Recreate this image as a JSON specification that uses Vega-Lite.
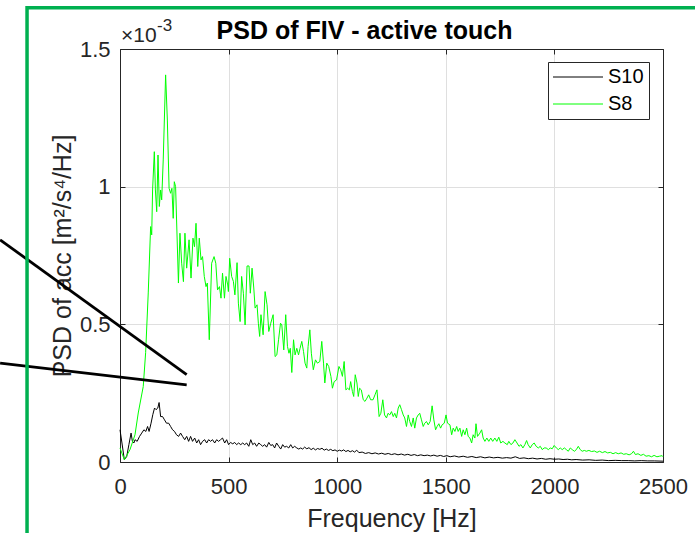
{
  "$schema": "https://vega.github.io/schema/vega-lite/v6.json",
  "width": 543,
  "height": 413,
  "autosize": {"type": "none"},
  "padding": {"left": 120, "top": 49, "right": 32, "bottom": 71},
  "background": "white",
  "config": {
    "view": {"stroke": null},
    "font": "Liberation Sans",
    "axis": {"labelFont": "Liberation Sans", "titleFont": "Liberation Sans"}
  },
  "datasets": {
    "s10": [
      {"f":0,"v":0.117,"s":"S10"},{"f":9,"v":0.069,"s":"S10"},{"f":20,"v":0.008,"s":"S10"},{"f":31,"v":0.020,"s":"S10"},{"f":41,"v":0.063,"s":"S10"},{"f":51,"v":0.105,"s":"S10"},{"f":57,"v":0.075,"s":"S10"},{"f":64,"v":0.069,"s":"S10"},{"f":69,"v":0.081,"s":"S10"},{"f":79,"v":0.075,"s":"S10"},{"f":90,"v":0.093,"s":"S10"},{"f":100,"v":0.105,"s":"S10"},{"f":110,"v":0.117,"s":"S10"},{"f":119,"v":0.111,"s":"S10"},{"f":127,"v":0.129,"s":"S10"},{"f":134,"v":0.111,"s":"S10"},{"f":143,"v":0.141,"s":"S10"},{"f":151,"v":0.172,"s":"S10"},{"f":159,"v":0.196,"s":"S10"},{"f":166,"v":0.190,"s":"S10"},{"f":174,"v":0.196,"s":"S10"},{"f":180,"v":0.216,"s":"S10"},{"f":187,"v":0.165,"s":"S10"},{"f":196,"v":0.165,"s":"S10"},{"f":205,"v":0.153,"s":"S10"},{"f":214,"v":0.141,"s":"S10"},{"f":224,"v":0.141,"s":"S10"},{"f":233,"v":0.129,"s":"S10"},{"f":242,"v":0.117,"s":"S10"},{"f":251,"v":0.111,"s":"S10"},{"f":260,"v":0.099,"s":"S10"},{"f":270,"v":0.093,"s":"S10"},{"f":279,"v":0.105,"s":"S10"},{"f":288,"v":0.093,"s":"S10"},{"f":298,"v":0.081,"s":"S10"},{"f":307,"v":0.093,"s":"S10"},{"f":316,"v":0.075,"s":"S10"},{"f":325,"v":0.093,"s":"S10"},{"f":334,"v":0.075,"s":"S10"},{"f":344,"v":0.087,"s":"S10"},{"f":353,"v":0.069,"s":"S10"},{"f":362,"v":0.081,"s":"S10"},{"f":371,"v":0.063,"s":"S10"},{"f":380,"v":0.075,"s":"S10"},{"f":390,"v":0.081,"s":"S10"},{"f":399,"v":0.069,"s":"S10"},{"f":408,"v":0.081,"s":"S10"},{"f":417,"v":0.075,"s":"S10"},{"f":426,"v":0.081,"s":"S10"},{"f":436,"v":0.069,"s":"S10"},{"f":445,"v":0.081,"s":"S10"},{"f":454,"v":0.075,"s":"S10"},{"f":463,"v":0.081,"s":"S10"},{"f":472,"v":0.087,"s":"S10"},{"f":482,"v":0.069,"s":"S10"},{"f":491,"v":0.081,"s":"S10"},{"f":500,"v":0.063,"s":"S10"},{"f":509,"v":0.071,"s":"S10"},{"f":519,"v":0.066,"s":"S10"},{"f":528,"v":0.071,"s":"S10"},{"f":537,"v":0.063,"s":"S10"},{"f":546,"v":0.069,"s":"S10"},{"f":556,"v":0.063,"s":"S10"},{"f":565,"v":0.069,"s":"S10"},{"f":574,"v":0.063,"s":"S10"},{"f":583,"v":0.069,"s":"S10"},{"f":593,"v":0.057,"s":"S10"},{"f":602,"v":0.081,"s":"S10"},{"f":611,"v":0.063,"s":"S10"},{"f":620,"v":0.069,"s":"S10"},{"f":629,"v":0.057,"s":"S10"},{"f":639,"v":0.069,"s":"S10"},{"f":648,"v":0.063,"s":"S10"},{"f":657,"v":0.057,"s":"S10"},{"f":666,"v":0.063,"s":"S10"},{"f":675,"v":0.054,"s":"S10"},{"f":685,"v":0.071,"s":"S10"},{"f":694,"v":0.060,"s":"S10"},{"f":703,"v":0.063,"s":"S10"},{"f":712,"v":0.051,"s":"S10"},{"f":721,"v":0.069,"s":"S10"},{"f":731,"v":0.057,"s":"S10"},{"f":740,"v":0.047,"s":"S10"},{"f":749,"v":0.063,"s":"S10"},{"f":758,"v":0.054,"s":"S10"},{"f":767,"v":0.057,"s":"S10"},{"f":777,"v":0.051,"s":"S10"},{"f":786,"v":0.063,"s":"S10"},{"f":795,"v":0.051,"s":"S10"},{"f":804,"v":0.057,"s":"S10"},{"f":814,"v":0.051,"s":"S10"},{"f":823,"v":0.047,"s":"S10"},{"f":832,"v":0.051,"s":"S10"},{"f":841,"v":0.047,"s":"S10"},{"f":850,"v":0.054,"s":"S10"},{"f":860,"v":0.048,"s":"S10"},{"f":870,"v":0.052,"s":"S10"},{"f":880,"v":0.045,"s":"S10"},{"f":890,"v":0.050,"s":"S10"},{"f":900,"v":0.044,"s":"S10"},{"f":910,"v":0.049,"s":"S10"},{"f":920,"v":0.046,"s":"S10"},{"f":930,"v":0.050,"s":"S10"},{"f":940,"v":0.043,"s":"S10"},{"f":950,"v":0.047,"s":"S10"},{"f":960,"v":0.042,"s":"S10"},{"f":970,"v":0.046,"s":"S10"},{"f":980,"v":0.041,"s":"S10"},{"f":990,"v":0.044,"s":"S10"},{"f":1000,"v":0.039,"s":"S10"},{"f":1010,"v":0.043,"s":"S10"},{"f":1020,"v":0.040,"s":"S10"},{"f":1030,"v":0.044,"s":"S10"},{"f":1040,"v":0.038,"s":"S10"},{"f":1050,"v":0.042,"s":"S10"},{"f":1060,"v":0.037,"s":"S10"},{"f":1070,"v":0.041,"s":"S10"},{"f":1080,"v":0.036,"s":"S10"},{"f":1090,"v":0.043,"s":"S10"},{"f":1100,"v":0.034,"s":"S10"},{"f":1115,"v":0.036,"s":"S10"},{"f":1130,"v":0.031,"s":"S10"},{"f":1145,"v":0.034,"s":"S10"},{"f":1160,"v":0.030,"s":"S10"},{"f":1175,"v":0.033,"s":"S10"},{"f":1190,"v":0.029,"s":"S10"},{"f":1205,"v":0.032,"s":"S10"},{"f":1220,"v":0.028,"s":"S10"},{"f":1235,"v":0.031,"s":"S10"},{"f":1250,"v":0.027,"s":"S10"},{"f":1265,"v":0.030,"s":"S10"},{"f":1280,"v":0.026,"s":"S10"},{"f":1295,"v":0.029,"s":"S10"},{"f":1310,"v":0.025,"s":"S10"},{"f":1325,"v":0.028,"s":"S10"},{"f":1340,"v":0.024,"s":"S10"},{"f":1355,"v":0.027,"s":"S10"},{"f":1370,"v":0.023,"s":"S10"},{"f":1385,"v":0.026,"s":"S10"},{"f":1400,"v":0.023,"s":"S10"},{"f":1415,"v":0.025,"s":"S10"},{"f":1430,"v":0.022,"s":"S10"},{"f":1445,"v":0.025,"s":"S10"},{"f":1460,"v":0.021,"s":"S10"},{"f":1475,"v":0.024,"s":"S10"},{"f":1490,"v":0.020,"s":"S10"},{"f":1505,"v":0.023,"s":"S10"},{"f":1520,"v":0.019,"s":"S10"},{"f":1540,"v":0.022,"s":"S10"},{"f":1560,"v":0.018,"s":"S10"},{"f":1580,"v":0.021,"s":"S10"},{"f":1600,"v":0.017,"s":"S10"},{"f":1620,"v":0.020,"s":"S10"},{"f":1640,"v":0.016,"s":"S10"},{"f":1660,"v":0.019,"s":"S10"},{"f":1680,"v":0.015,"s":"S10"},{"f":1700,"v":0.018,"s":"S10"},{"f":1720,"v":0.015,"s":"S10"},{"f":1740,"v":0.017,"s":"S10"},{"f":1760,"v":0.014,"s":"S10"},{"f":1780,"v":0.016,"s":"S10"},{"f":1800,"v":0.014,"s":"S10"},{"f":1820,"v":0.019,"s":"S10"},{"f":1840,"v":0.013,"s":"S10"},{"f":1860,"v":0.015,"s":"S10"},{"f":1880,"v":0.012,"s":"S10"},{"f":1900,"v":0.014,"s":"S10"},{"f":1920,"v":0.011,"s":"S10"},{"f":1940,"v":0.013,"s":"S10"},{"f":1960,"v":0.010,"s":"S10"},{"f":1980,"v":0.012,"s":"S10"},{"f":2000,"v":0.010,"s":"S10"},{"f":2020,"v":0.011,"s":"S10"},{"f":2040,"v":0.009,"s":"S10"},{"f":2060,"v":0.010,"s":"S10"},{"f":2080,"v":0.008,"s":"S10"},{"f":2100,"v":0.009,"s":"S10"},{"f":2130,"v":0.007,"s":"S10"},{"f":2160,"v":0.008,"s":"S10"},{"f":2190,"v":0.006,"s":"S10"},{"f":2220,"v":0.007,"s":"S10"},{"f":2250,"v":0.005,"s":"S10"},{"f":2280,"v":0.006,"s":"S10"},{"f":2310,"v":0.005,"s":"S10"},{"f":2340,"v":0.005,"s":"S10"},{"f":2370,"v":0.004,"s":"S10"},{"f":2400,"v":0.005,"s":"S10"},{"f":2430,"v":0.004,"s":"S10"},{"f":2460,"v":0.004,"s":"S10"},{"f":2500,"v":0.003,"s":"S10"}
    ],
    "s8": [
      {"f":0,"v":0.051,"s":"S8"},{"f":20,"v":0.008,"s":"S8"},{"f":46,"v":0.045,"s":"S8"},{"f":69,"v":0.099,"s":"S8"},{"f":84,"v":0.178,"s":"S8"},{"f":107,"v":0.274,"s":"S8"},{"f":118,"v":0.397,"s":"S8"},{"f":130,"v":0.614,"s":"S8"},{"f":141,"v":0.855,"s":"S8"},{"f":146,"v":0.825,"s":"S8"},{"f":150,"v":0.988,"s":"S8"},{"f":158,"v":1.127,"s":"S8"},{"f":163,"v":0.988,"s":"S8"},{"f":169,"v":0.909,"s":"S8"},{"f":175,"v":1.115,"s":"S8"},{"f":181,"v":0.928,"s":"S8"},{"f":187,"v":0.988,"s":"S8"},{"f":192,"v":0.952,"s":"S8"},{"f":199,"v":1.097,"s":"S8"},{"f":210,"v":1.406,"s":"S8"},{"f":218,"v":1.242,"s":"S8"},{"f":226,"v":0.994,"s":"S8"},{"f":233,"v":0.976,"s":"S8"},{"f":239,"v":0.994,"s":"S8"},{"f":245,"v":0.885,"s":"S8"},{"f":250,"v":1.018,"s":"S8"},{"f":256,"v":1.000,"s":"S8"},{"f":269,"v":0.650,"s":"S8"},{"f":276,"v":0.831,"s":"S8"},{"f":284,"v":0.722,"s":"S8"},{"f":292,"v":0.655,"s":"S8"},{"f":299,"v":0.831,"s":"S8"},{"f":307,"v":0.704,"s":"S8"},{"f":318,"v":0.807,"s":"S8"},{"f":327,"v":0.668,"s":"S8"},{"f":336,"v":0.813,"s":"S8"},{"f":343,"v":0.782,"s":"S8"},{"f":350,"v":0.867,"s":"S8"},{"f":358,"v":0.710,"s":"S8"},{"f":365,"v":0.813,"s":"S8"},{"f":373,"v":0.734,"s":"S8"},{"f":380,"v":0.746,"s":"S8"},{"f":388,"v":0.674,"s":"S8"},{"f":396,"v":0.637,"s":"S8"},{"f":402,"v":0.650,"s":"S8"},{"f":411,"v":0.444,"s":"S8"},{"f":422,"v":0.722,"s":"S8"},{"f":433,"v":0.746,"s":"S8"},{"f":441,"v":0.722,"s":"S8"},{"f":449,"v":0.625,"s":"S8"},{"f":458,"v":0.637,"s":"S8"},{"f":465,"v":0.595,"s":"S8"},{"f":472,"v":0.686,"s":"S8"},{"f":481,"v":0.595,"s":"S8"},{"f":488,"v":0.674,"s":"S8"},{"f":496,"v":0.643,"s":"S8"},{"f":499,"v":0.619,"s":"S8"},{"f":505,"v":0.740,"s":"S8"},{"f":514,"v":0.674,"s":"S8"},{"f":522,"v":0.656,"s":"S8"},{"f":529,"v":0.607,"s":"S8"},{"f":539,"v":0.724,"s":"S8"},{"f":545,"v":0.577,"s":"S8"},{"f":553,"v":0.510,"s":"S8"},{"f":560,"v":0.674,"s":"S8"},{"f":568,"v":0.613,"s":"S8"},{"f":576,"v":0.498,"s":"S8"},{"f":585,"v":0.712,"s":"S8"},{"f":594,"v":0.712,"s":"S8"},{"f":600,"v":0.613,"s":"S8"},{"f":608,"v":0.704,"s":"S8"},{"f":616,"v":0.632,"s":"S8"},{"f":622,"v":0.559,"s":"S8"},{"f":631,"v":0.571,"s":"S8"},{"f":637,"v":0.504,"s":"S8"},{"f":643,"v":0.456,"s":"S8"},{"f":649,"v":0.535,"s":"S8"},{"f":659,"v":0.462,"s":"S8"},{"f":668,"v":0.619,"s":"S8"},{"f":677,"v":0.571,"s":"S8"},{"f":685,"v":0.474,"s":"S8"},{"f":694,"v":0.504,"s":"S8"},{"f":705,"v":0.535,"s":"S8"},{"f":714,"v":0.383,"s":"S8"},{"f":722,"v":0.389,"s":"S8"},{"f":730,"v":0.444,"s":"S8"},{"f":739,"v":0.504,"s":"S8"},{"f":745,"v":0.498,"s":"S8"},{"f":754,"v":0.407,"s":"S8"},{"f":763,"v":0.535,"s":"S8"},{"f":771,"v":0.420,"s":"S8"},{"f":778,"v":0.395,"s":"S8"},{"f":784,"v":0.413,"s":"S8"},{"f":791,"v":0.325,"s":"S8"},{"f":799,"v":0.444,"s":"S8"},{"f":806,"v":0.389,"s":"S8"},{"f":814,"v":0.413,"s":"S8"},{"f":822,"v":0.389,"s":"S8"},{"f":829,"v":0.413,"s":"S8"},{"f":837,"v":0.438,"s":"S8"},{"f":845,"v":0.401,"s":"S8"},{"f":852,"v":0.359,"s":"S8"},{"f":860,"v":0.341,"s":"S8"},{"f":866,"v":0.420,"s":"S8"},{"f":874,"v":0.480,"s":"S8"},{"f":881,"v":0.395,"s":"S8"},{"f":890,"v":0.335,"s":"S8"},{"f":900,"v":0.371,"s":"S8"},{"f":909,"v":0.359,"s":"S8"},{"f":920,"v":0.365,"s":"S8"},{"f":929,"v":0.438,"s":"S8"},{"f":937,"v":0.359,"s":"S8"},{"f":943,"v":0.287,"s":"S8"},{"f":952,"v":0.359,"s":"S8"},{"f":961,"v":0.347,"s":"S8"},{"f":971,"v":0.311,"s":"S8"},{"f":978,"v":0.268,"s":"S8"},{"f":986,"v":0.292,"s":"S8"},{"f":997,"v":0.298,"s":"S8"},{"f":1008,"v":0.347,"s":"S8"},{"f":1016,"v":0.335,"s":"S8"},{"f":1024,"v":0.311,"s":"S8"},{"f":1032,"v":0.365,"s":"S8"},{"f":1040,"v":0.262,"s":"S8"},{"f":1048,"v":0.268,"s":"S8"},{"f":1056,"v":0.262,"s":"S8"},{"f":1062,"v":0.292,"s":"S8"},{"f":1070,"v":0.256,"s":"S8"},{"f":1076,"v":0.238,"s":"S8"},{"f":1083,"v":0.317,"s":"S8"},{"f":1091,"v":0.287,"s":"S8"},{"f":1097,"v":0.238,"s":"S8"},{"f":1103,"v":0.268,"s":"S8"},{"f":1111,"v":0.262,"s":"S8"},{"f":1120,"v":0.226,"s":"S8"},{"f":1128,"v":0.220,"s":"S8"},{"f":1137,"v":0.232,"s":"S8"},{"f":1145,"v":0.244,"s":"S8"},{"f":1154,"v":0.226,"s":"S8"},{"f":1165,"v":0.226,"s":"S8"},{"f":1174,"v":0.244,"s":"S8"},{"f":1183,"v":0.262,"s":"S8"},{"f":1193,"v":0.165,"s":"S8"},{"f":1201,"v":0.177,"s":"S8"},{"f":1210,"v":0.226,"s":"S8"},{"f":1218,"v":0.171,"s":"S8"},{"f":1227,"v":0.160,"s":"S8"},{"f":1234,"v":0.177,"s":"S8"},{"f":1242,"v":0.171,"s":"S8"},{"f":1250,"v":0.183,"s":"S8"},{"f":1258,"v":0.165,"s":"S8"},{"f":1265,"v":0.177,"s":"S8"},{"f":1273,"v":0.160,"s":"S8"},{"f":1281,"v":0.196,"s":"S8"},{"f":1288,"v":0.208,"s":"S8"},{"f":1296,"v":0.190,"s":"S8"},{"f":1304,"v":0.171,"s":"S8"},{"f":1311,"v":0.160,"s":"S8"},{"f":1319,"v":0.129,"s":"S8"},{"f":1327,"v":0.171,"s":"S8"},{"f":1334,"v":0.147,"s":"S8"},{"f":1342,"v":0.129,"s":"S8"},{"f":1350,"v":0.160,"s":"S8"},{"f":1357,"v":0.123,"s":"S8"},{"f":1365,"v":0.160,"s":"S8"},{"f":1373,"v":0.171,"s":"S8"},{"f":1380,"v":0.177,"s":"S8"},{"f":1388,"v":0.153,"s":"S8"},{"f":1396,"v":0.129,"s":"S8"},{"f":1403,"v":0.141,"s":"S8"},{"f":1411,"v":0.147,"s":"S8"},{"f":1419,"v":0.135,"s":"S8"},{"f":1428,"v":0.147,"s":"S8"},{"f":1437,"v":0.204,"s":"S8"},{"f":1445,"v":0.153,"s":"S8"},{"f":1453,"v":0.117,"s":"S8"},{"f":1460,"v":0.129,"s":"S8"},{"f":1468,"v":0.139,"s":"S8"},{"f":1476,"v":0.123,"s":"S8"},{"f":1483,"v":0.135,"s":"S8"},{"f":1493,"v":0.141,"s":"S8"},{"f":1501,"v":0.171,"s":"S8"},{"f":1508,"v":0.141,"s":"S8"},{"f":1519,"v":0.135,"s":"S8"},{"f":1527,"v":0.099,"s":"S8"},{"f":1534,"v":0.123,"s":"S8"},{"f":1542,"v":0.111,"s":"S8"},{"f":1550,"v":0.129,"s":"S8"},{"f":1557,"v":0.111,"s":"S8"},{"f":1565,"v":0.123,"s":"S8"},{"f":1573,"v":0.093,"s":"S8"},{"f":1580,"v":0.117,"s":"S8"},{"f":1588,"v":0.099,"s":"S8"},{"f":1596,"v":0.123,"s":"S8"},{"f":1603,"v":0.093,"s":"S8"},{"f":1611,"v":0.087,"s":"S8"},{"f":1619,"v":0.069,"s":"S8"},{"f":1626,"v":0.099,"s":"S8"},{"f":1634,"v":0.087,"s":"S8"},{"f":1639,"v":0.139,"s":"S8"},{"f":1646,"v":0.093,"s":"S8"},{"f":1657,"v":0.105,"s":"S8"},{"f":1665,"v":0.117,"s":"S8"},{"f":1672,"v":0.087,"s":"S8"},{"f":1680,"v":0.075,"s":"S8"},{"f":1689,"v":0.087,"s":"S8"},{"f":1698,"v":0.075,"s":"S8"},{"f":1707,"v":0.087,"s":"S8"},{"f":1716,"v":0.075,"s":"S8"},{"f":1726,"v":0.087,"s":"S8"},{"f":1735,"v":0.075,"s":"S8"},{"f":1744,"v":0.090,"s":"S8"},{"f":1753,"v":0.069,"s":"S8"},{"f":1763,"v":0.075,"s":"S8"},{"f":1772,"v":0.069,"s":"S8"},{"f":1783,"v":0.063,"s":"S8"},{"f":1790,"v":0.075,"s":"S8"},{"f":1800,"v":0.063,"s":"S8"},{"f":1809,"v":0.069,"s":"S8"},{"f":1818,"v":0.081,"s":"S8"},{"f":1828,"v":0.069,"s":"S8"},{"f":1837,"v":0.057,"s":"S8"},{"f":1846,"v":0.063,"s":"S8"},{"f":1855,"v":0.051,"s":"S8"},{"f":1864,"v":0.063,"s":"S8"},{"f":1872,"v":0.078,"s":"S8"},{"f":1879,"v":0.063,"s":"S8"},{"f":1889,"v":0.051,"s":"S8"},{"f":1898,"v":0.063,"s":"S8"},{"f":1907,"v":0.069,"s":"S8"},{"f":1916,"v":0.057,"s":"S8"},{"f":1926,"v":0.051,"s":"S8"},{"f":1935,"v":0.057,"s":"S8"},{"f":1944,"v":0.045,"s":"S8"},{"f":1953,"v":0.051,"s":"S8"},{"f":1962,"v":0.051,"s":"S8"},{"f":1972,"v":0.045,"s":"S8"},{"f":1981,"v":0.051,"s":"S8"},{"f":1990,"v":0.048,"s":"S8"},{"f":1999,"v":0.060,"s":"S8"},{"f":2009,"v":0.051,"s":"S8"},{"f":2018,"v":0.045,"s":"S8"},{"f":2027,"v":0.051,"s":"S8"},{"f":2036,"v":0.045,"s":"S8"},{"f":2046,"v":0.051,"s":"S8"},{"f":2055,"v":0.045,"s":"S8"},{"f":2064,"v":0.039,"s":"S8"},{"f":2073,"v":0.051,"s":"S8"},{"f":2082,"v":0.045,"s":"S8"},{"f":2092,"v":0.039,"s":"S8"},{"f":2101,"v":0.045,"s":"S8"},{"f":2110,"v":0.057,"s":"S8"},{"f":2119,"v":0.045,"s":"S8"},{"f":2128,"v":0.039,"s":"S8"},{"f":2138,"v":0.042,"s":"S8"},{"f":2147,"v":0.039,"s":"S8"},{"f":2159,"v":0.042,"s":"S8"},{"f":2171,"v":0.038,"s":"S8"},{"f":2184,"v":0.040,"s":"S8"},{"f":2196,"v":0.035,"s":"S8"},{"f":2208,"v":0.039,"s":"S8"},{"f":2221,"v":0.034,"s":"S8"},{"f":2233,"v":0.038,"s":"S8"},{"f":2245,"v":0.033,"s":"S8"},{"f":2258,"v":0.035,"s":"S8"},{"f":2270,"v":0.030,"s":"S8"},{"f":2282,"v":0.034,"s":"S8"},{"f":2294,"v":0.030,"s":"S8"},{"f":2307,"v":0.033,"s":"S8"},{"f":2319,"v":0.028,"s":"S8"},{"f":2331,"v":0.030,"s":"S8"},{"f":2344,"v":0.026,"s":"S8"},{"f":2355,"v":0.030,"s":"S8"},{"f":2364,"v":0.039,"s":"S8"},{"f":2373,"v":0.027,"s":"S8"},{"f":2385,"v":0.030,"s":"S8"},{"f":2398,"v":0.024,"s":"S8"},{"f":2410,"v":0.028,"s":"S8"},{"f":2422,"v":0.021,"s":"S8"},{"f":2435,"v":0.023,"s":"S8"},{"f":2447,"v":0.019,"s":"S8"},{"f":2459,"v":0.024,"s":"S8"},{"f":2472,"v":0.019,"s":"S8"},{"f":2484,"v":0.021,"s":"S8"},{"f":2496,"v":0.023,"s":"S8"},{"f":2500,"v":0.019,"s":"S8"}
    ],
    "frame": [{"fa":-428,"fb":6000,"va":1.65,"vb":-2}],
    "arrows": [
      {"fa":-552,"va":0.807,"fb":307,"vb":0.317},
      {"fa":-552,"va":0.359,"fb":307,"vb":0.2805}
    ],
    "exp": [{"f":0,"v":1.5,"base":"×10","pow":"-3"}]
  },
  "layer": [
    {
      "data": {"name": "s10"},
      "mark": {"type": "line", "strokeWidth": 1, "clip": false},
      "encoding": {
        "x": {
          "field": "f", "type": "quantitative",
          "scale": {"domain": [0, 2500], "nice": false, "zero": false},
          "axis": {
            "orient": "bottom", "values": [0, 500, 1000, 1500, 2000, 2500], "format": "d",
            "title": "Frequency [Hz]", "titleFontSize": 25, "titleFontWeight": "normal", "titleColor": "#262626", "titlePadding": 9,
            "labelFontSize": 22, "labelColor": "#262626", "labelPadding": 19, "labelFlush": false,
            "grid": true, "gridColor": "#dfdfdf", "gridWidth": 1,
            "tickSize": -5, "tickColor": "#262626", "domainColor": "#262626", "domainWidth": 1
          }
        },
        "y": {
          "field": "v", "type": "quantitative",
          "scale": {"domain": [0, 1.5], "nice": false, "zero": false},
          "axis": {
            "orient": "left", "values": [0, 0.5, 1, 1.5], "format": "~g",
            "title": "PSD of acc [m²/s⁴/Hz]", "titleFontSize": 25, "titleFontWeight": "normal", "titleColor": "#262626", "titlePadding": 4,
            "labelFontSize": 22, "labelColor": "#262626", "labelPadding": 15, "labelFlush": false,
            "grid": true, "gridColor": "#dfdfdf", "gridWidth": 1,
            "tickSize": -5, "tickColor": "#262626", "domainColor": "#262626", "domainWidth": 1
          }
        },
        "color": {
          "field": "s", "type": "nominal",
          "scale": {"domain": ["S10", "S8"], "range": ["#000000", "#00ff00"]},
          "legend": {
            "orient": "none", "legendX": 428, "legendY": 13, "title": null,
            "labelFontSize": 20, "labelColor": "#000000", "labelFont": "Liberation Sans",
            "strokeColor": "#262626", "fillColor": "#ffffff", "padding": 5, "rowPadding": 7,
            "symbolType": "M-2,0H8", "symbolSize": 100, "symbolStrokeWidth": 1, "labelOffset": 35
          }
        }
      }
    },
    {
      "data": {"name": "s8"},
      "mark": {"type": "line", "strokeWidth": 1, "clip": false},
      "encoding": {
        "x": {"field": "f", "type": "quantitative", "scale": {"domain": [0, 2500], "nice": false, "zero": false}, "axis": null},
        "y": {"field": "v", "type": "quantitative", "scale": {"domain": [0, 1.5], "nice": false, "zero": false}, "axis": null},
        "color": {"field": "s", "type": "nominal", "scale": {"domain": ["S10", "S8"], "range": ["#000000", "#00ff00"]}}
      }
    },
    {
      "data": {"name": "arrows"},
      "mark": {"type": "rule", "color": "#000000", "strokeWidth": 2.8, "clip": false},
      "encoding": {
        "x": {
          "field": "fa", "type": "quantitative", "scale": {"domain": [0, 2500], "nice": false, "zero": false},
          "axis": {
            "orient": "top", "values": [0, 500, 1000, 1500, 2000, 2500], "labels": false, "grid": false,
            "tickSize": -5, "tickColor": "#262626", "domainColor": "#262626", "domainWidth": 1,
            "title": "PSD of FIV - active touch", "titleFontSize": 25, "titleFontWeight": "bold", "titleColor": "#000000",
            "titleX": 244, "titleY": -11, "titleAlign": "center", "titleBaseline": "alphabetic", "titleAngle": 0
          }
        },
        "y": {
          "field": "va", "type": "quantitative", "scale": {"domain": [0, 1.5], "nice": false, "zero": false},
          "axis": {"orient": "right", "values": [0, 0.5, 1, 1.5], "labels": false, "title": null, "grid": false, "tickSize": -5, "tickColor": "#262626", "domainColor": "#262626", "domainWidth": 1}
        },
        "x2": {"field": "fb"},
        "y2": {"field": "vb"}
      }
    },
    {
      "data": {"name": "frame"},
      "mark": {"type": "rect", "fill": null, "fillOpacity": 0, "stroke": "#00b050", "strokeWidth": 3.5, "clip": false},
      "encoding": {
        "x": {"field": "fa", "type": "quantitative", "scale": {"domain": [0, 2500], "nice": false, "zero": false}, "axis": null},
        "x2": {"field": "fb"},
        "y": {"field": "va", "type": "quantitative", "scale": {"domain": [0, 1.5], "nice": false, "zero": false}, "axis": null},
        "y2": {"field": "vb"}
      }
    },
    {
      "data": {"name": "exp"},
      "mark": {"type": "text", "align": "left", "baseline": "alphabetic", "dx": 1, "dy": -7, "fontSize": 21, "color": "#262626", "font": "Liberation Sans", "clip": false},
      "encoding": {
        "x": {"field": "f", "type": "quantitative", "scale": {"domain": [0, 2500], "nice": false, "zero": false}, "axis": null},
        "y": {"field": "v", "type": "quantitative", "scale": {"domain": [0, 1.5], "nice": false, "zero": false}, "axis": null},
        "text": {"field": "base"}
      }
    },
    {
      "data": {"name": "exp"},
      "mark": {"type": "text", "align": "left", "baseline": "alphabetic", "dx": 37, "dy": -18, "fontSize": 17, "color": "#262626", "font": "Liberation Sans", "clip": false},
      "encoding": {
        "x": {"field": "f", "type": "quantitative", "scale": {"domain": [0, 2500], "nice": false, "zero": false}, "axis": null},
        "y": {"field": "v", "type": "quantitative", "scale": {"domain": [0, 1.5], "nice": false, "zero": false}, "axis": null},
        "text": {"field": "pow"}
      }
    }
  ],
  "resolve": {"axis": {"x": "independent", "y": "independent"}}
}
